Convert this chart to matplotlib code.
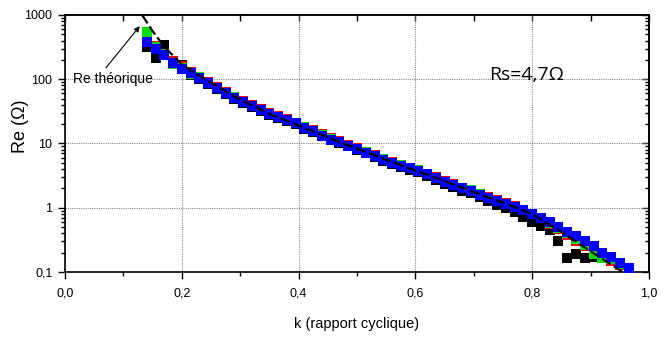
import matplotlib.pyplot as plt
from matplotlib.ticker import FixedLocator, FuncFormatter, LogLocator, MultipleLocator, NullFormatter

nan = float('nan')

# rapport cyclique k (abscisse commune des mesures)
k = [0.140, 0.155, 0.170, 0.185, 0.200, 0.215, 0.230, 0.245, 0.260, 0.275,
     0.290, 0.305, 0.320, 0.335, 0.350, 0.365, 0.380, 0.395, 0.410, 0.425,
     0.440, 0.455, 0.470, 0.485, 0.500, 0.515, 0.530, 0.545, 0.560, 0.575,
     0.590, 0.605, 0.620, 0.635, 0.650, 0.665, 0.680, 0.695, 0.710, 0.725,
     0.740, 0.755, 0.770, 0.785, 0.800, 0.815, 0.830, 0.845, 0.860, 0.875,
     0.890, 0.905, 0.920, 0.935, 0.950, 0.965]

re_noir = [320, 215, 340, 190, 165, 118, 100, 84, 70, 58,
           50, 43, 37, 32, 28, 25, 22.5, 20, 17, 15,
           13, 11.3, 10.2, 9.0, 8.0, 7.0, 6.1, 5.4, 4.8, 4.3,
           3.9, 3.55, 3.1, 2.75, 2.35, 2.1, 1.85, 1.7, 1.45, 1.28,
           1.1, 0.98, 0.86, 0.72, 0.6, 0.52, 0.45, 0.3, 0.165, 0.19,
           0.165, 0.17, nan, nan, nan, nan]

re_rouge = [470, 330, 250, 195, 160, 130, 110, 92, 76, 63,
            53, 46, 40, 34, 30, 26.5, 24, 21, 18.3, 16,
            13.8, 12, 10.9, 9.6, 8.5, 7.5, 6.6, 5.8, 5.2, 4.7,
            4.2, 3.85, 3.4, 3.0, 2.6, 2.3, 2.05, 1.9, 1.65, 1.45,
            1.3, 1.17, 1.05, 0.93, 0.8, 0.68, 0.56, 0.46, 0.38, 0.3,
            0.25, 0.2, 0.165, 0.15, 0.13, 0.11]

re_vert = [540, 320, 245, 170, 150, 120, 108, 88, 74, 62,
           52, 45, 39, 33.5, 29, 26, 23.3, 20.8, 17.8, 15.6,
           13.5, 11.7, 10.6, 9.3, 8.3, 7.3, 6.4, 5.7, 5.05, 4.55,
           4.15, 3.8, 3.35, 2.95, 2.55, 2.28, 2.02, 1.87, 1.62, 1.44,
           1.28, 1.16, 1.04, 0.93, 0.8, 0.69, 0.58, 0.48, 0.4, 0.33,
           0.26, 0.19, 0.165, 0.16, 0.135, 0.11]

re_bleu = [380, 300, 235, 180, 145, 125, 105, 86, 72, 60,
           51, 44, 38, 33, 28.5, 25.5, 23, 20.5, 17.5, 15.4,
           13.3, 11.5, 10.5, 9.2, 8.2, 7.2, 6.3, 5.6, 5.0, 4.5,
           4.1, 3.75, 3.3, 2.9, 2.5, 2.25, 2.0, 1.85, 1.6, 1.42,
           1.27, 1.15, 1.03, 0.92, 0.81, 0.7, 0.6, 0.5, 0.42, 0.36,
           0.3, 0.25, 0.2, 0.17, 0.14, 0.115]

# courbe théorique
k_theo = [0.132, 0.15, 0.17, 0.2, 0.25, 0.3, 0.35, 0.4, 0.45, 0.5,
          0.55, 0.6, 0.65, 0.7, 0.75, 0.8, 0.85, 0.9, 0.955]
re_theo = [1000, 560, 320, 170, 88, 48, 29, 19, 12.5, 8.3,
           5.6, 3.8, 2.6, 1.75, 1.2, 0.8, 0.42, 0.21, 0.1]

x_ticks = [0.0, 0.2, 0.4, 0.6, 0.8, 1.0]
y_ticks = [0.1, 1, 10, 100, 1000]

sans = ['Liberation Sans', 'DejaVu Sans']

fig = plt.figure(figsize=(6.71, 3.38), dpi=100)
ax = fig.add_axes([0.0969, 0.1953, 0.8703, 0.7604])

for vals, col in [(re_noir, '#000000'), (re_rouge, '#ff0000'),
                  (re_vert, '#00e000'), (re_bleu, '#0000ff')]:
    ax.plot(k, vals, linestyle='none', marker='s', markersize=7.2,
            markerfacecolor=col, markeredgewidth=0, zorder=3)

ax.plot(k_theo, re_theo, color='black', lw=1.6, linestyle=(0, (4.5, 1.6)), zorder=4)

ax.set_yscale('log')
ax.set_xlim(0, 1)
ax.set_ylim(0.1, 1000)

ax.xaxis.set_major_locator(FixedLocator(x_ticks))
ax.xaxis.set_minor_locator(MultipleLocator(0.1))
ax.xaxis.set_major_formatter(FuncFormatter(lambda v, p: ('%.1f' % v).replace('.', ',')))
ax.yaxis.set_major_locator(FixedLocator(y_ticks))
ax.yaxis.set_minor_locator(LogLocator(base=10, subs=range(2, 10)))
ax.yaxis.set_minor_formatter(NullFormatter())
ax.yaxis.set_major_formatter(FuncFormatter(
    lambda v, p: '0,1' if v < 0.5 else '%d' % round(v)))

ax.tick_params(which='both', direction='out', width=1, colors='black')
ax.tick_params(which='major', length=5, pad=4)
ax.tick_params(axis='x', which='major', pad=6)
ax.tick_params(which='minor', length=3)
for lab in ax.get_xticklabels() + ax.get_yticklabels():
    lab.set_family(sans)
    lab.set_fontsize(9)

# graduations intérieures en haut et à droite
sec_y = ax.secondary_yaxis('right')
sec_y.yaxis.set_major_locator(FixedLocator(y_ticks))
sec_y.yaxis.set_minor_locator(LogLocator(base=10, subs=range(2, 10)))
sec_y.tick_params(which='both', direction='in', labelright=False, width=1)
sec_y.tick_params(which='major', length=5)
sec_y.tick_params(which='minor', length=3)
sec_x = ax.secondary_xaxis('top')
sec_x.xaxis.set_major_locator(MultipleLocator(0.1))
sec_x.tick_params(direction='in', labeltop=False, length=4, width=1)

for sp in list(ax.spines.values()) + [sec_y.spines['right'], sec_x.spines['top']]:
    sp.set_linewidth(1.2)

ax.grid(True, which='major', linestyle=(0, (1, 1)), color='#888888', lw=0.8)

ax.set_xlabel('k (rapport cyclique)', family=sans, fontsize=10.5, labelpad=13)
fig.text(0.031, 1 - 126 / 338, 'Re (Ω)', rotation=90, fontsize=13,
         family=sans, ha='center', va='center')

ax.text(0.014, 100, 'Re théorique', family=sans, fontsize=10, ha='left', va='center')
ax.annotate('', xy=(0.128, 670), xytext=(0.07, 150),
            arrowprops=dict(arrowstyle='-|>', color='black', lw=0.8,
                            mutation_scale=8, shrinkA=0, shrinkB=0))

ax.text(0.726, 0.766, 'Rs=4,7Ω', transform=ax.transAxes, fontsize=14,
        family=['Open Sans', 'DejaVu Sans'], ha='left', va='center')

fig.savefig('out.png', dpi=100)
